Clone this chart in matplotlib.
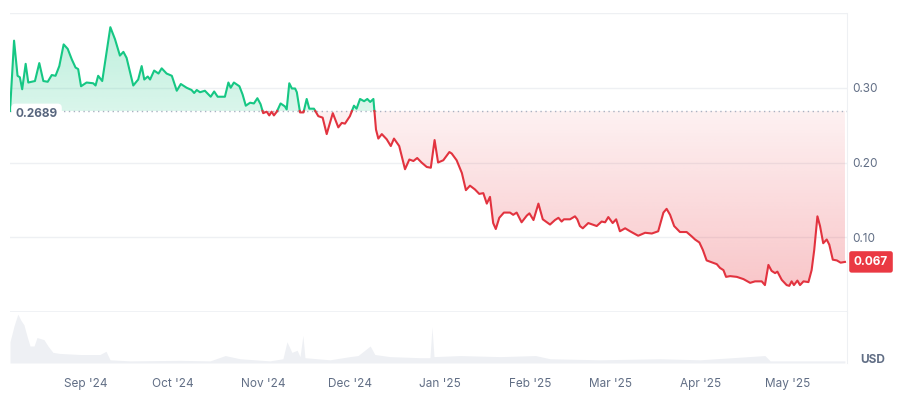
import numpy as np
import pandas as pd
import matplotlib
matplotlib.use("Agg")
import matplotlib.pyplot as plt
import matplotlib.dates as mdates
from matplotlib.path import Path
from matplotlib.patches import PathPatch
from matplotlib.colors import to_rgb

plt.rcParams['font.family'] = ['Inter', 'DejaVu Sans']

# -----------------------------
# Data
# -----------------------------
start_date = pd.Timestamp("2024-08-01")

# days since 1 Aug 2024 and price in USD
days = [4.8, 6.2, 7.4, 8.2, 9.0, 10.2, 11.1, 13.4, 14.9, 16.3, 17.8, 19.2, 20.5, 21.8,
        23.3, 24.7, 26.1, 27.4, 28.3, 29.3, 31.2, 33.5, 34.3, 35.2, 36.6, 39.4, 41.0,
        42.7, 43.9, 45.0, 47.3, 49.0, 50.2, 51.1, 52.3, 53.1, 54.5, 56.0, 57.1, 58.8,
        60.6, 62.3, 63.7, 65.7, 67.4, 68.3, 69.2, 70.3, 72.0, 74.0, 75.2, 76.4, 78.9,
        80.1, 80.9, 82.0, 83.9, 85.0, 86.1, 87.6, 88.9, 90.1, 91.2, 92.1, 93.3, 94.2,
        95.0, 95.8, 96.8, 98.1, 99.6, 100.2, 101.1, 102.0, 103.1, 103.7, 104.8, 106.0,
        107.1, 108.0, 109.6, 111.1, 112.6, 114.0, 116.1, 118.0, 119.2, 120.3, 122.0,
        123.4, 124.3, 125.5, 126.9, 128.0, 129.0, 130.1, 131.0, 131.8, 133.0, 134.7,
        136.1, 137.2, 139.0, 141.0, 142.5, 143.9, 145.2, 146.7, 148.5, 149.9, 151.2,
        152.4, 154.2, 156.3, 157.1, 158.8, 160.6, 162.0, 163.4, 165.1, 166.6, 168.0,
        169.2, 170.3, 171.4, 172.3, 173.5, 175.1, 177.2, 178.3, 179.5, 181.2, 183.0,
        183.9, 185.3, 187.0, 188.5, 191.0, 192.7, 193.9, 195.0, 195.8, 197.9, 199.6,
        200.4, 201.3, 202.3, 204.2, 207.1, 208.8, 210.0, 211.1, 212.6, 213.8, 215.1,
        216.9, 218.6, 221.4, 223.8, 226.1, 228.3, 230.1, 231.2, 232.4, 233.8, 235.8,
        238.1, 239.9, 241.0, 242.5, 243.7, 245.0, 247.1, 248.5, 249.6, 250.8, 251.7,
        253.1, 255.4, 257.7, 260.0, 261.7, 264.0, 265.1, 266.3, 267.4, 268.6, 269.4,
        270.9, 272.6, 273.5, 274.3, 275.1, 276.3, 277.2, 278.4, 280.1, 281.2, 282.1,
        283.2, 284.1, 285.2, 286.4, 287.3, 288.5, 289.9, 291.2, 292.7]
prices = [0.2689, 0.363, 0.316, 0.314, 0.298, 0.332, 0.307, 0.309, 0.333, 0.309, 0.308,
          0.317, 0.316, 0.329, 0.358, 0.352, 0.338, 0.327, 0.325, 0.302, 0.307, 0.306,
          0.303, 0.316, 0.309, 0.381, 0.365, 0.343, 0.348, 0.340, 0.303, 0.311, 0.329,
          0.311, 0.315, 0.311, 0.323, 0.319, 0.326, 0.319, 0.316, 0.296, 0.305, 0.300,
          0.297, 0.293, 0.297, 0.294, 0.296, 0.288, 0.295, 0.288, 0.288, 0.307, 0.300,
          0.307, 0.302, 0.291, 0.276, 0.280, 0.279, 0.286, 0.278, 0.266, 0.268, 0.263,
          0.268, 0.263, 0.268, 0.279, 0.275, 0.271, 0.306, 0.299, 0.299, 0.294, 0.267,
          0.267, 0.285, 0.272, 0.272, 0.262, 0.260, 0.238, 0.266, 0.247, 0.253, 0.252,
          0.262, 0.276, 0.272, 0.285, 0.282, 0.285, 0.281, 0.285, 0.244, 0.232, 0.238,
          0.231, 0.222, 0.232, 0.222, 0.191, 0.204, 0.202, 0.206, 0.200, 0.194, 0.193,
          0.230, 0.200, 0.203, 0.214, 0.212, 0.203, 0.186, 0.163, 0.169, 0.164, 0.158,
          0.159, 0.145, 0.154, 0.119, 0.111, 0.126, 0.133, 0.133, 0.130, 0.133, 0.120,
          0.129, 0.132, 0.123, 0.145, 0.124, 0.117, 0.123, 0.126, 0.121, 0.124, 0.124,
          0.128, 0.124, 0.115, 0.112, 0.119, 0.115, 0.121, 0.120, 0.127, 0.119, 0.124,
          0.108, 0.112, 0.108, 0.102, 0.106, 0.105, 0.108, 0.133, 0.138, 0.130, 0.115,
          0.107, 0.107, 0.101, 0.097, 0.093, 0.083, 0.069, 0.066, 0.064, 0.059, 0.056,
          0.047, 0.048, 0.047, 0.044, 0.039, 0.041, 0.041, 0.036, 0.063, 0.055, 0.052,
          0.054, 0.043, 0.036, 0.035, 0.041, 0.036, 0.042, 0.036, 0.041, 0.040, 0.056,
          0.083, 0.128, 0.115, 0.092, 0.097, 0.090, 0.070, 0.069, 0.066, 0.067]

# trading volume (relative units)
vol_days = [4.8, 6.2, 7.5, 8.6, 9.6, 10.7, 11.7, 13.1, 14.1, 16.5, 17.9, 19.6, 22.0, 29.0,
            35.8, 37.9, 39.3, 46.2, 63.4, 73.8, 79.0, 84.1, 94.4, 98.9, 100.3, 102.0,
            103.8, 104.8, 105.8, 106.5, 115.1, 122.0, 124.8, 129.0, 130.6, 135.8, 146.2,
            149.6, 150.3, 151.0, 160.0, 173.8, 186.0, 191.0, 208.2, 229.0, 242.7, 265.1,
            266.9, 292.7]
volume = [20, 35, 46, 40, 36, 25, 16, 16, 24, 22, 16, 10, 9, 8, 8, 11, 3, 2, 2.5, 2, 7,
          4, 2, 4, 20, 10, 12, 6, 26, 5, 3, 6, 7, 16, 8, 6, 5, 5, 34, 6, 7, 6, 7, 4, 3,
          4, 3, 7, 2, 2]

y_ticks = [0.10, 0.20, 0.30]
month_ticks = ["2024-09-01", "2024-10-01", "2024-11-01", "2024-12-01", "2025-01-01",
               "2025-02-01", "2025-03-01", "2025-04-01", "2025-05-01"]

base_price = prices[0]
last_price = prices[-1]

GREEN = "#16c784"
RED = "#ea3943"
GRID = "#eef0f3"
TXT = "#616e85"

x = mdates.date2num(start_date) + np.array(days)
y = np.array(prices)
vx = mdates.date2num(start_date) + np.array(vol_days)
x_left = mdates.date2num(start_date) + 4.8
x_right = mdates.date2num(start_date) + 293.4

# -----------------------------
# Figure
# -----------------------------
fig = plt.figure(figsize=(9, 4), dpi=100)
ax = fig.add_axes([10 / 900, 1 - 312 / 400, 837 / 900, 299 / 400])
vax = fig.add_axes([10 / 900, 1 - 363 / 400, 837 / 900, 51 / 400])

# insert baseline crossings so the line changes colour exactly at the baseline
xs, ys = [x[0]], [y[0]]
for i in range(len(x) - 1):
    a, b = y[i] - base_price, y[i + 1] - base_price
    if a * b < 0:
        t = a / (a - b)
        xs.append(x[i] + t * (x[i + 1] - x[i]))
        ys.append(base_price)
    xs.append(x[i + 1])
    ys.append(y[i + 1])
xs = np.array(xs)
ys = np.array(ys)
eps = 1e-9
above = np.where(ys >= base_price - eps, ys, np.nan)
below = np.where(ys <= base_price + eps, ys, np.nan)


def gradient_fill(ax, xs, ylo, yhi, color, a_base, a_far, far_is_top):
    poly = ax.fill_between(xs, ylo, yhi, facecolor="none", edgecolor="none")
    paths = poly.get_paths()
    if not paths:
        return
    clip = Path.make_compound_path(*paths)
    rgb = to_rgb(color)
    n = 256
    alpha = np.linspace(a_base, a_far, n) if far_is_top else np.linspace(a_far, a_base, n)
    img = np.zeros((n, 2, 4))
    img[:, :, :3] = rgb
    img[:, :, 3] = alpha[:, None]
    y0, y1 = (base_price, 0.40) if far_is_top else (0.0, base_price)
    im = ax.imshow(img, extent=[xs[0], xs[-1], y0, y1], origin="lower",
                   aspect="auto", interpolation="bilinear", zorder=1)
    im.set_clip_path(PathPatch(clip, transform=ax.transData))


gradient_fill(ax, xs, base_price, np.where(ys >= base_price, ys, base_price),
              GREEN, 0.16, 0.30, True)
gradient_fill(ax, xs, np.where(ys <= base_price, ys, base_price), base_price,
              RED, 0.07, 0.32, False)

ax.plot(xs, above, color=GREEN, lw=1.5, zorder=3, solid_joinstyle="round")
ax.plot(xs, below, color="#e2333f", lw=1.5, zorder=3, solid_joinstyle="round")

# baseline
ax.axhline(base_price, color="#a9b2c2", lw=1, ls=(0, (1, 2.5)), zorder=2)
ax.annotate(f"{base_price:.4f}", xy=(0, base_price), xycoords=("axes fraction", "data"),
            xytext=(4, -2), textcoords="offset points", ha="left", va="center",
            fontsize=8.5, fontweight="bold", color="#58667e", zorder=5,
            bbox=dict(boxstyle="round,pad=0.35", fc="white", ec="none"))

# grid
for v in y_ticks + [0.40]:
    ax.axhline(v, color=GRID, lw=1, zorder=0)
ax.axhline(0.0, color=GRID, lw=1.2, zorder=0)

ax.set_xlim(x_left, x_right)
ax.set_ylim(0, 0.40)
ax.yaxis.tick_right()
ax.set_yticks(y_ticks)
ax.set_yticklabels([f"{v:.2f}" for v in y_ticks])
ax.tick_params(axis="y", length=0, pad=4, labelsize=8.5, labelcolor=TXT)
ax.set_xticks([])
for s in ["top", "left", "bottom"]:
    ax.spines[s].set_visible(False)
ax.spines["right"].set_color(GRID)

# current price tag
ax.annotate(f"{last_price:.3f}", xy=(1, last_price), xycoords=("axes fraction", "data"),
            xytext=(5, 0), textcoords="offset points", ha="left", va="center",
            fontsize=8.5, fontweight="bold", color="white", zorder=6,
            bbox=dict(boxstyle="round,pad=0.4,rounding_size=0.2", fc=RED, ec="none"),
            annotation_clip=False)

# -----------------------------
# Volume
# -----------------------------
vax.fill_between(vx, 0, volume, color="#eef0f4", lw=0)
vax.set_xlim(x_left, x_right)
vax.set_ylim(0, 48)
vax.set_yticks([])
tick_pos = mdates.date2num(pd.to_datetime(month_ticks))
vax.set_xticks(tick_pos)
vax.set_xticklabels(pd.to_datetime(month_ticks).strftime("%b '%y"))
vax.tick_params(axis="x", length=0, pad=11, labelsize=8.5, labelcolor=TXT)
for s in ["top", "left", "bottom"]:
    vax.spines[s].set_visible(False)
vax.spines["right"].set_color(GRID)

fig.text(860 / 900, 1 - 360 / 400, "USD", fontsize=8.5, fontweight="bold",
         color=TXT, ha="left", va="center")

plt.savefig("out.png", dpi=100)
